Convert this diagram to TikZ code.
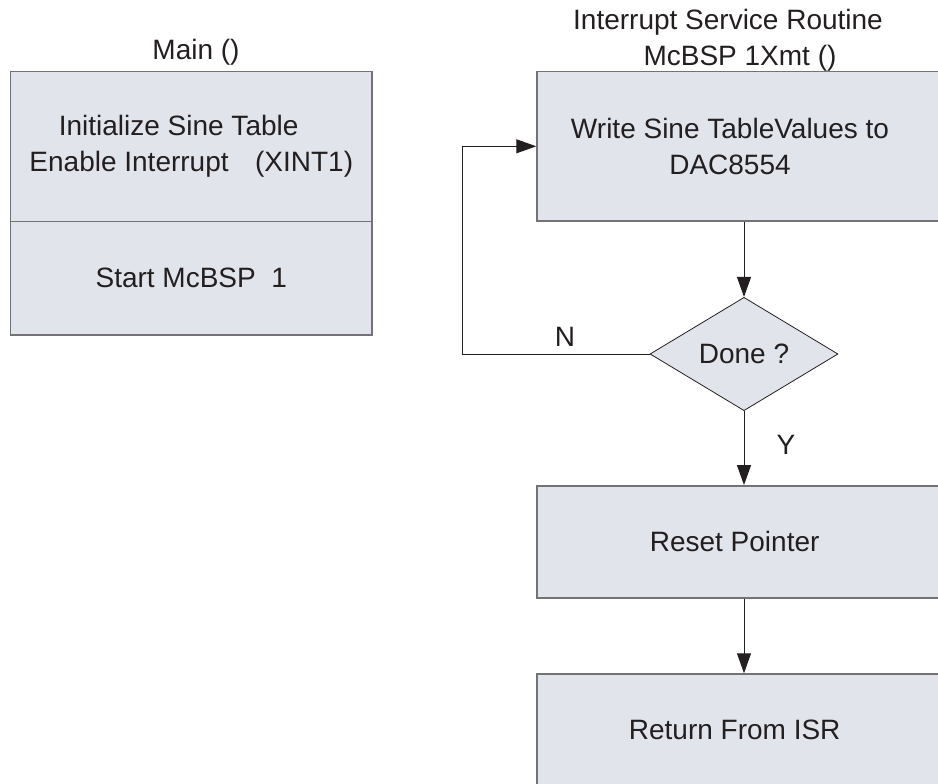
\documentclass[tikz,border=0pt]{standalone}
\usepackage{fontspec}
\setmainfont{Liberation Sans}
\usetikzlibrary{shapes.geometric,arrows.meta}

\definecolor{boxfill}{RGB}{225,228,235}
\definecolor{boxline}{RGB}{115,115,118}
\definecolor{inkc}{RGB}{35,31,32}

\tikzset{every picture/.style={line width=0.75pt}}
\tikzset{
  every node/.style={font=\fontsize{21}{27}\selectfont, text=inkc},
  procbox/.style={rectangle, draw=boxline, fill=boxfill, line width=1.1pt, align=center, inner sep=0pt},
  decision/.style={diamond, draw=inkc, fill=boxfill, line width=0.6pt, aspect=1.66, inner sep=0pt, minimum width=141pt, minimum height=85pt},
  flowarrow/.style={draw=inkc, -{Triangle[length=15pt,width=10.5pt]}}
}

\begin{document}
\begin{tikzpicture}[x=0.75pt,y=0.75pt,yscale=-1,xscale=1]
	\useasboundingbox (0,0) rectangle (938,784);
	\clip (0,0) rectangle (938,784);

	% Main routine
	\node (maintitle) at (196,52) {Main ()};
	\node [procbox, minimum width=271pt, minimum height=112.5pt] (init) at (191.3,146.7) {Initialize Sine Table\hspace*{19pt}\\Enable Interrupt\hspace{14pt} (XINT1)};
	\node [procbox, minimum width=271pt, minimum height=85pt] (startmcbsp) at (191.3,278.3) {Start McBSP\ \ 1};

	% Interrupt service routine
	\node [align=center] (isrtitle) at (728,40) {Interrupt Service Routine\\\hspace*{18pt}McBSP 1Xmt ()};
	\node [procbox, minimum width=310.5pt, minimum height=112pt] (write) at (744,146.3) {Write Sine TableValues to\hspace*{21pt}\\DAC8554\hspace*{21pt}};
	\node [decision] (done) at (744,354) {Done ?};
	\node [procbox, minimum width=310.5pt, minimum height=84pt] (reset) at (744,541.8) {Reset Pointer\hspace*{14pt}};
	\node [procbox, minimum width=310.5pt, minimum height=84pt] (isrreturn) at (744,730) {Return From ISR\hspace*{14pt}};

	% Connectors
	\coordinate (loopcorner) at (462,354);
	\draw [flowarrow] (write) -- (done);
	\draw [flowarrow] (done) -- (reset);
	\draw [flowarrow] (reset) -- (isrreturn);
	\draw [flowarrow] (done.west) -- (loopcorner) |- (write.west);

	% Branch labels
	\node (nlabel) at (565,337) {N};
	\node (ylabel) at (786,445) {Y};

\end{tikzpicture}
\end{document}
